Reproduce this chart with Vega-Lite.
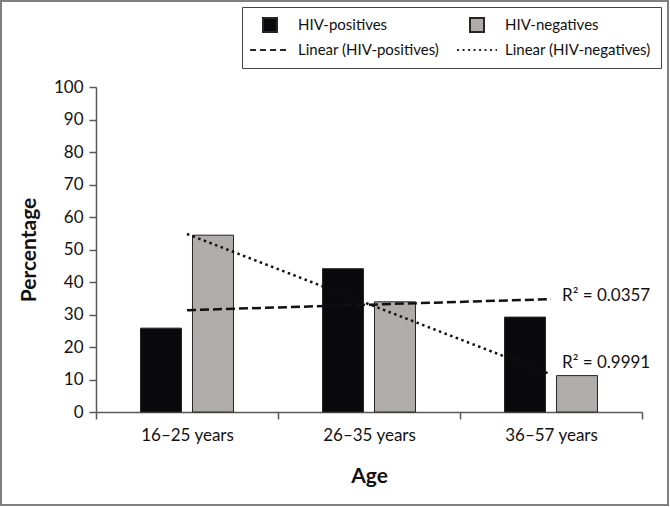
{
  "$schema": "https://vega.github.io/schema/vega-lite/v6.json",
  "autosize": "none",
  "width": 667,
  "height": 504,
  "padding": {"left": 1, "top": 1, "right": 2, "bottom": 2},
  "background": "white",
  "config": {
    "view": {"stroke": "#7f7f7f", "strokeWidth": 2},
    "font": "Lato",
    "axis": {
      "domainColor": "#595959", "tickColor": "#595959", "domainWidth": 1.5, "tickWidth": 1.5,
      "tickSize": 7, "labelFont": "Lato", "labelFontSize": 17, "labelColor": "#111111",
      "titleFont": "Lato", "titleFontSize": 21, "titleFontWeight": "bold", "titleColor": "#111111", "grid": false
    }
  },
  "datasets": {
    "bars": [
      {"age": "16–25 years", "group": "HIV-positives", "value": 25.8},
      {"age": "16–25 years", "group": "HIV-negatives", "value": 54.4},
      {"age": "26–35 years", "group": "HIV-positives", "value": 44.1},
      {"age": "26–35 years", "group": "HIV-negatives", "value": 33.9},
      {"age": "36–57 years", "group": "HIV-positives", "value": 29.2},
      {"age": "36–57 years", "group": "HIV-negatives", "value": 11.2}
    ],
    "trend": [
      {"age": "16–25 years", "series": "Linear (HIV-positives)", "value": 31.33},
      {"age": "26–35 years", "series": "Linear (HIV-positives)", "value": 33.03},
      {"age": "36–57 years", "series": "Linear (HIV-positives)", "value": 34.73},
      {"age": "16–25 years", "series": "Linear (HIV-negatives)", "value": 54.77},
      {"age": "26–35 years", "series": "Linear (HIV-negatives)", "value": 33.17},
      {"age": "36–57 years", "series": "Linear (HIV-negatives)", "value": 11.57}
    ],
    "r2": [
      {"age": "36–57 years", "series": "Linear (HIV-positives)", "value": 34.73, "label": "R² = 0.0357"},
      {"age": "36–57 years", "series": "Linear (HIV-negatives)", "value": 11.57, "label": "R² = 0.9991"}
    ]
  },
  "encoding": {
    "x": {
      "field": "age", "type": "nominal", "sort": null,
      "scale": {"range": [95, 641], "paddingInner": 0, "paddingOuter": 0},
      "axis": {"title": "Age", "labelAngle": 0, "tickBand": "extent", "offset": -93, "labelPadding": 8, "titlePadding": 22}
    }
  },
  "layer": [
    {
      "data": {"name": "bars"},
      "mark": {"type": "bar", "stroke": "#262626", "strokeWidth": 1},
      "encoding": {
        "xOffset": {"field": "group", "type": "nominal", "sort": ["HIV-positives", "HIV-negatives"],
          "scale": {"paddingInner": 0.2115, "paddingOuter": 0.856}},
        "y": {
          "field": "value", "type": "quantitative",
          "scale": {"domain": [0, 100], "range": [411, 86], "nice": false},
          "axis": {"title": "Percentage", "values": [0, 10, 20, 30, 40, 50, 60, 70, 80, 90, 100], "offset": -95, "labelPadding": 6, "titlePadding": 14}
        },
        "fill": {
          "field": "group", "type": "nominal",
          "scale": {
            "domain": ["HIV-positives", "Linear (HIV-positives)", "HIV-negatives", "Linear (HIV-negatives)"],
            "range": ["#0a0a0c", "transparent", "#b0acab", "transparent"]
          },
          "legend": {
            "orient": "none", "legendX": 241, "legendY": 6, "columns": 2, "title": null,
            "symbolSize": 196,
            "symbolType": {"expr": "indexof(datum.value, 'Linear') === 0 ? 'M-2.85,0H2.85' : 'square'"},
            "symbolDash": {"expr": "datum.value === 'Linear (HIV-positives)' ? [6, 4] : (datum.value === 'Linear (HIV-negatives)' ? [2, 3.5] : [])"},
            "symbolStrokeWidth": 2,
            "symbolOffset": 10,
            "labelFont": "Lato", "labelFontSize": 15, "labelColor": "#111111",
            "labelLimit": 300, "labelOffset": 20,
            "strokeColor": "#444444", "fillColor": "#ffffff", "padding": 10,
            "columnPadding": 13, "rowPadding": 6
          }
        }
      }
    },
    {
      "data": {"name": "trend"},
      "mark": {"type": "line", "color": "#111111", "strokeWidth": 2.5},
      "encoding": {
        "y": {"field": "value", "type": "quantitative"},
        "detail": {"field": "series"},
        "strokeDash": {
          "field": "series", "type": "nominal",
          "scale": {"domain": ["Linear (HIV-positives)", "Linear (HIV-negatives)"], "range": [[9, 4], [2.5, 3.5]]},
          "legend": null
        }
      }
    },
    {
      "data": {"name": "r2"},
      "transform": [{"filter": "datum.series === 'Linear (HIV-positives)'"}],
      "mark": {"type": "text", "align": "left", "baseline": "middle", "dx": 11, "dy": -3, "font": "Lato", "fontSize": 17, "color": "#111111"},
      "encoding": {
        "y": {"field": "value", "type": "quantitative"},
        "text": {"field": "label"}
      }
    },
    {
      "data": {"name": "r2"},
      "transform": [{"filter": "datum.series === 'Linear (HIV-negatives)'"}],
      "mark": {"type": "text", "align": "left", "baseline": "middle", "dx": 11, "dy": -11, "font": "Lato", "fontSize": 17, "color": "#111111"},
      "encoding": {
        "y": {"field": "value", "type": "quantitative"},
        "text": {"field": "label"}
      }
    }
  ]
}
